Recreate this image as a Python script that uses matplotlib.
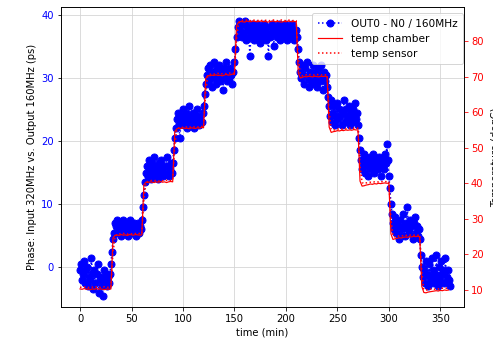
import matplotlib
matplotlib.use("Agg")
import matplotlib.pyplot as plt
import numpy as np

# phase sampled once a minute, temperatures every 2 minutes
time_phase = np.arange(0, 360, 1)
time_temp = np.arange(0, 360, 2)

# phase, input 320MHz vs output 160MHz (ps)
phase_ps = [
    # 10 degC
    -0.5, 0.5, -2.0, -1.0, 1.0, -2.5, -0.5, 0.0, -3.0, -1.5, -2.0, 1.5, -1.0, -3.5, -0.5,
    -2.5, -1.0, 0.5, -4.0, -2.0, -1.5, -3.0, -4.5, -0.5, -2.0, -1.0, -3.0, -1.5, -2.5, -1.0,
    # 25 degC
    0.5, 2.5, 4.5, 5.5, 7.0, 6.5, 7.5, 5.5, 6.0, 7.0, 5.0, 6.5, 7.5, 6.0, 5.5,
    7.0, 6.5, 5.0, 6.0, 7.5, 6.5, 5.5, 7.0, 6.0, 5.0, 6.5, 7.0, 5.5, 6.5, 6.0,
    # 40 degC
    7.5, 9.5, 11.5, 13.5, 15.0, 16.0, 14.5, 17.0, 15.5, 14.0, 16.5, 15.0, 17.5, 14.5, 16.0,
    15.5, 14.0, 16.5, 15.0, 17.0, 15.5, 14.5, 16.0, 15.0, 17.5, 16.0, 14.5, 15.5, 16.5, 15.0,
    # 55 degC
    16.5, 18.5, 20.5, 22.0, 23.5, 24.5, 22.5, 20.5, 23.0, 24.0, 25.0, 22.5, 23.5, 24.5, 22.0,
    23.0, 25.5, 24.0, 22.5, 23.5, 24.5, 22.0, 23.0, 24.0, 25.0, 23.5, 22.5, 24.0, 23.0, 24.5,
    # 70 degC
    25.5, 27.5, 29.0, 30.5, 31.5, 29.5, 32.0, 30.5, 28.5, 31.0, 32.5, 30.0, 29.0, 31.5, 30.5,
    32.0, 29.5, 31.0, 30.0, 28.0, 31.5, 30.5, 32.5, 29.5, 31.0, 30.0, 31.5, 30.5, 29.0, 31.0,
    # 85 degC
    32.5, 34.5, 36.5, 38.0, 39.0, 37.5, 38.5, 36.5, 37.0, 38.5, 39.0, 36.0, 37.5, 38.0, 36.5,
    33.5, 37.0, 38.5, 37.5, 36.0, 38.0, 37.0, 38.5, 36.5, 37.5, 35.5, 38.0, 37.0, 36.5, 38.5,
    37.5, 36.0, 38.0, 33.5, 37.0, 36.5, 38.5, 37.5, 35.0, 37.0, 38.0, 36.5, 37.5, 38.5, 36.0,
    37.0, 38.0, 37.5, 36.5, 38.5, 37.0, 36.0, 37.5, 38.0, 36.5, 37.0, 38.5, 37.5, 36.0, 37.0,
    # 70 degC
    37.5, 36.5, 34.5, 32.5, 31.0, 30.0, 32.0, 30.5, 29.0, 31.5, 32.5, 30.0, 28.5, 31.0, 29.5,
    30.5, 32.0, 29.0, 31.0, 30.0, 28.5, 31.5, 30.5, 29.5, 32.0, 30.0, 28.0, 31.0, 29.5, 30.5,
    # 55 degC
    28.5, 27.0, 25.5, 24.0, 26.5, 23.0, 24.5, 25.5, 22.5, 24.0, 26.0, 23.5, 25.0, 24.0, 22.5,
    24.5, 26.5, 23.0, 25.0, 24.0, 23.5, 25.5, 22.5, 24.5, 23.0, 25.0, 24.0, 26.0, 23.5, 24.5,
    # 40 degC
    22.5, 20.5, 18.5, 17.0, 15.5, 16.5, 18.0, 15.0, 17.0, 16.0, 14.5, 16.5, 17.5, 15.5, 16.0,
    18.0, 15.0, 17.0, 16.5, 15.5, 17.5, 16.0, 14.5, 16.5, 17.0, 15.5, 18.0, 16.5, 19.5, 17.0,
    # 25 degC
    14.5, 12.5, 10.0, 8.5, 7.0, 6.0, 8.0, 5.5, 7.0, 6.5, 4.5, 7.5, 5.0, 6.0, 8.5,
    6.5, 5.0, 7.0, 9.5, 6.0, 5.5, 7.5, 6.5, 4.5, 7.0, 8.0, 5.5, 6.5, 5.0, 6.0,
    # 10 degC
    4.5, 2.0, 0.0, -1.5, -0.5, -2.5, 1.0, -1.0, -3.0, 0.5, -1.5, -2.0, 1.5, -0.5, -2.5,
    -1.0, 2.0, -1.5, -3.0, 0.0, -2.0, 1.0, -1.0, -0.5, -2.5, 1.5, -1.5, -0.5, -2.0, -3.0,
]

# climate chamber temperature (degC)
temp_chamber = [
    10.3, 10.2, 10.4, 10.2, 10.3, 10.1, 10.3, 10.2, 10.4, 10.2, 10.3, 10.2, 10.1, 10.3, 10.2,
    10.3, 24.6, 25.4, 25.5, 25.3, 25.6, 25.4, 25.5, 25.3, 25.6, 25.5, 25.4, 25.6, 25.5, 25.4,
    25.5, 39.6, 40.3, 40.2, 40.4, 40.3, 40.2, 40.4, 40.3, 40.5, 40.3, 40.4, 40.2, 40.4, 40.5,
    40.4, 54.5, 55.3, 55.5, 55.4, 55.6, 55.4, 55.5, 55.3, 55.6, 55.5, 55.4, 55.6, 55.5, 55.7,
    55.6, 69.4, 70.3, 70.2, 70.4, 70.3, 70.5, 70.3, 70.4, 70.2, 70.4, 70.6, 70.4, 70.5, 70.7,
    70.6, 84.2, 85.3, 85.5, 85.4, 85.3, 85.6, 85.5, 85.4, 85.6, 85.5, 85.4, 85.5, 85.6, 85.4,
    85.5, 85.3, 85.4, 85.5, 85.6, 85.4, 85.5, 85.4, 85.3, 85.5, 85.4, 85.6, 85.5, 85.4, 85.5,
    85.4, 71.0, 69.6, 69.8, 70.0, 69.9, 70.1, 70.0, 69.9, 70.1, 70.0, 69.9, 70.1, 70.0, 70.1,
    70.0, 55.8, 54.3, 54.5, 54.6, 54.8, 54.7, 54.9, 54.8, 55.0, 54.9, 55.0, 54.9, 55.1, 55.0,
    55.0, 40.6, 39.2, 39.3, 39.5, 39.6, 39.8, 39.7, 39.9, 39.8, 40.0, 39.9, 40.0, 40.1, 40.0,
    40.0, 25.8, 24.2, 24.4, 24.5, 24.7, 24.6, 24.8, 24.9, 24.8, 25.0, 24.9, 25.1, 25.0, 25.1,
    25.0, 11.0, 9.3, 9.2, 9.4, 9.5, 9.6, 9.7, 9.8, 9.7, 9.9, 9.8, 10.0, 9.9, 10.0,
]

# temperature sensor on the board (degC)
temp_sensor = [
    10.8, 10.7, 10.9, 10.8, 10.7, 10.9, 10.8, 10.7, 10.9, 10.8, 10.7, 10.8, 10.9, 10.8, 10.7,
    10.8, 20.5, 25.0, 25.6, 25.8, 25.7, 25.9, 25.8, 25.7, 25.9, 25.8, 25.7, 25.9, 25.8, 25.9,
    25.8, 35.5, 40.1, 40.6, 40.7, 40.8, 40.7, 40.8, 40.6, 40.8, 40.7, 40.9, 40.8, 40.7, 40.8,
    40.8, 50.5, 55.0, 55.6, 55.8, 55.7, 55.9, 55.8, 55.7, 55.9, 55.8, 55.9, 55.8, 55.9, 56.0,
    55.9, 65.5, 70.0, 70.6, 70.8, 70.7, 70.8, 70.9, 70.7, 70.8, 70.9, 70.8, 70.9, 71.0, 70.9,
    71.0, 80.5, 85.0, 85.6, 85.8, 85.7, 85.9, 85.8, 85.7, 85.9, 85.8, 85.7, 85.9, 85.8, 85.7,
    85.8, 85.9, 85.7, 85.8, 85.9, 85.8, 85.7, 85.8, 85.9, 85.8, 85.7, 85.9, 85.8, 85.7, 85.8,
    85.7, 75.5, 70.6, 70.2, 70.4, 70.5, 70.4, 70.6, 70.5, 70.4, 70.6, 70.5, 70.4, 70.6, 70.5,
    70.5, 60.0, 55.2, 54.9, 55.1, 55.2, 55.3, 55.2, 55.4, 55.3, 55.4, 55.5, 55.4, 55.5, 55.4,
    55.5, 45.0, 40.2, 39.9, 40.1, 40.2, 40.3, 40.2, 40.4, 40.3, 40.4, 40.5, 40.4, 40.5, 40.4,
    40.5, 30.0, 25.2, 24.9, 25.1, 25.2, 25.3, 25.2, 25.4, 25.3, 25.4, 25.5, 25.4, 25.5, 25.4,
    25.5, 15.0, 10.2, 9.9, 10.1, 10.2, 10.3, 10.2, 10.4, 10.3, 10.4, 10.5, 10.4, 10.5, 10.4,
]

dpi = 72
fig = plt.figure(figsize=(493 / dpi, 344 / dpi), dpi=dpi)
ax = fig.add_axes([61 / 493, 37.3 / 344, 403 / 493, 299.4 / 344])

l1, = ax.plot(time_phase, phase_ps, "bo:", markersize=7, label="OUT0 - N0 / 160MHz")
ax.set_xlim(-18.5, 373)
ax.set_ylim(-6.24, 41.17)
ax.set_xlabel("time (min)")
ax.set_ylabel("Phase: Input 320MHz vs. Output 160MHz (ps)")
ax.tick_params(axis="y", labelcolor="b")
ax.grid(True, color="#d4d4d4")

ax2 = ax.twinx()
l2, = ax2.plot(time_temp, temp_chamber, "r-", linewidth=1.2, label="temp chamber")
l3, = ax2.plot(time_temp, temp_sensor, "r:", linewidth=1.5, label="temp sensor")
ax2.set_ylim(5.3, 89.47)
ax2.set_ylabel("Temperature (degC)", labelpad=7)
ax2.tick_params(axis="y", colors="r")

ax2.legend(handles=[l1, l2, l3], loc="upper right", fontsize=10.5,
           handlelength=2.3, handletextpad=0.9, borderpad=0.5,
           bbox_to_anchor=(0.998, 0.98), borderaxespad=0)

fig.savefig("out.png", dpi=dpi, facecolor="white")
plt.close(fig)
